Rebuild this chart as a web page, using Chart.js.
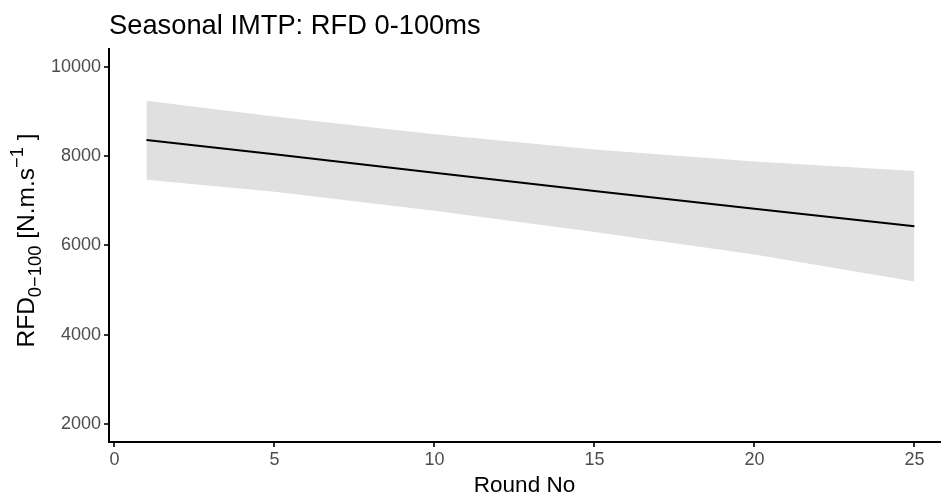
<!DOCTYPE html>
<html>
<head>
<meta charset="utf-8">
<script src="https://cdn.jsdelivr.net/npm/chart.js@4/dist/chart.umd.min.js"></script>
<style>
  html, body { margin: 0; padding: 0; background: #fff; }
  #wrap { width: 941px; height: 504px; }
</style>
</head>
<body>
<div id="wrap"><canvas id="chart" width="941" height="504"></canvas></div>
<script>
const roundNo = [1, 5, 10, 15, 20, 25];
const fitted = [8360, 8040, 7630, 7220, 6825, 6430];
const upperCI = [9240, 8890, 8490, 8150, 7880, 7665];
const lowerCI = [7470, 7205, 6775, 6300, 5800, 5195];
const xTicks = [0, 5, 10, 15, 20, 25];
const yTicks = [2000, 4000, 6000, 8000, 10000];

const FONT = "'Liberation Sans', Arial, sans-serif";

const points = (ys) => roundNo.map((x, i) => ({ x, y: ys[i] }));

// y axis title with subscript / superscript, drawn rotated like the R plotmath label
const yTitlePlugin = {
  id: 'yTitle',
  afterDraw(chart) {
    const { ctx, chartArea } = chart;
    const F = 24.5;
    const parts = [
      { t: 'RFD', s: 1, dy: 0 },
      { t: '0\u2212100', s: 0.75, dy: 0.28 },
      { t: ' [N.m.s', s: 1, dy: 0 },
      { t: '\u22121', s: 0.75, dy: -0.45 },
      { t: ' ]', s: 1, dy: 0 }
    ];
    ctx.save();
    let total = 0;
    parts.forEach((p) => {
      ctx.font = `${F * p.s}px ${FONT}`;
      p.w = ctx.measureText(p.t).width;
      total += p.w;
    });
    ctx.translate(34, (chartArea.top + chartArea.bottom) / 2 - 5);
    ctx.rotate(-Math.PI / 2);
    ctx.fillStyle = '#000';
    ctx.textBaseline = 'alphabetic';
    let x = -total / 2;
    parts.forEach((p) => {
      ctx.font = `${F * p.s}px ${FONT}`;
      ctx.fillText(p.t, x, p.dy * F);
      x += p.w;
    });
    ctx.restore();
  }
};

new Chart(document.getElementById('chart'), {
  type: 'line',
  data: {
    datasets: [
      { label: 'fit', data: points(fitted), borderColor: '#000', borderWidth: 2, pointRadius: 0, fill: false, tension: 0 },
      { label: 'upper', data: points(upperCI), borderWidth: 0, borderColor: 'rgba(0,0,0,0)', backgroundColor: '#e0e0e0', pointRadius: 0, fill: '+1', tension: 0 },
      { label: 'lower', data: points(lowerCI), borderWidth: 0, borderColor: 'rgba(0,0,0,0)', pointRadius: 0, fill: false, tension: 0 }
    ]
  },
  options: {
    responsive: false,
    animation: false,
    layout: { padding: { left: 0, right: 1, top: 0, bottom: 0 } },
    plugins: {
      legend: { display: false },
      tooltip: { enabled: false },
      title: {
        display: true,
        text: 'Seasonal IMTP: RFD 0-100ms',
        align: 'start',
        fullSize: false,
        color: '#000',
        font: { family: FONT, size: 27.3, weight: 'normal' },
        padding: { top: 10, bottom: 6.2 }
      }
    },
    scales: {
      x: {
        type: 'linear',
        min: -0.17,
        max: 25.8,
        afterBuildTicks: (scale) => { scale.ticks = xTicks.map((v) => ({ value: v })); },
        afterFit: (scale) => { scale.height = 62; },
        grid: { drawOnChartArea: false, drawTicks: true, tickLength: 5, color: '#333', lineWidth: 2 },
        border: { display: true, color: '#000', width: 2 },
        ticks: { color: '#4d4d4d', font: { family: FONT, size: 18 }, padding: 2, maxRotation: 0 },
        title: { display: true, text: 'Round No', color: '#000', font: { family: FONT, size: 22.5 }, padding: { top: 0, bottom: 5 } }
      },
      y: {
        min: 1600,
        max: 10400,
        afterBuildTicks: (scale) => { scale.ticks = yTicks.map((v) => ({ value: v })); },
        afterFit: (scale) => { scale.width = 109; },
        grid: { drawOnChartArea: false, drawTicks: true, tickLength: 5, color: '#333', lineWidth: 2 },
        border: { display: true, color: '#000', width: 2 },
        ticks: { color: '#4d4d4d', font: { family: FONT, size: 18 }, padding: 3, callback: (v) => String(v) }
      }
    }
  },
  plugins: [yTitlePlugin]
});
</script>
</body>
</html>
